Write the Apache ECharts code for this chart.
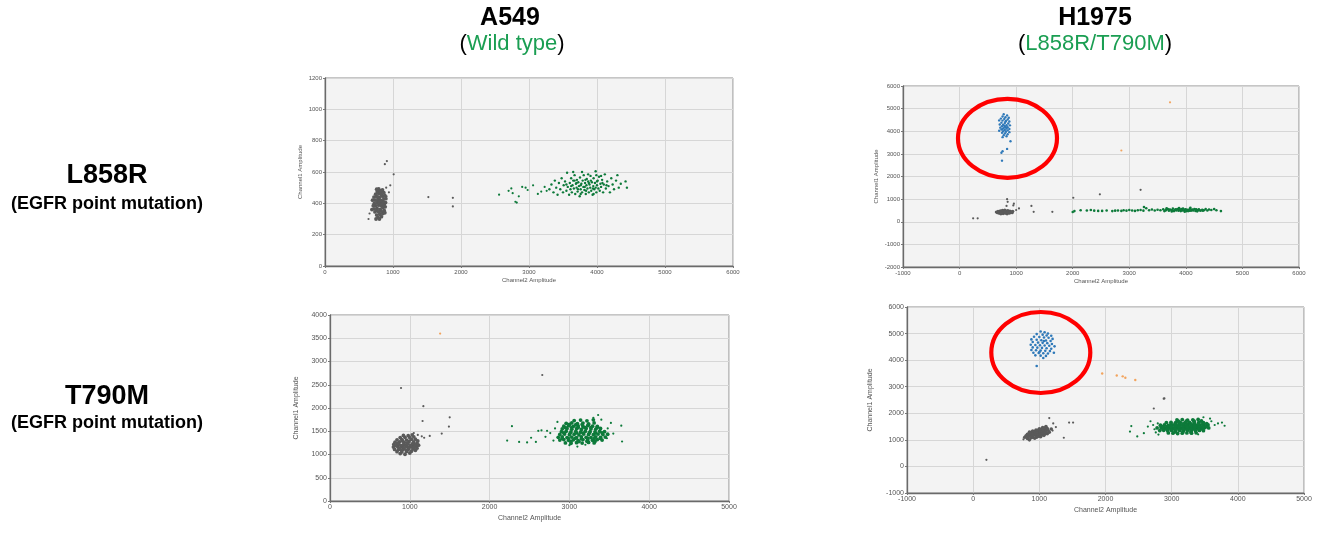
<!DOCTYPE html>
<html><head><meta charset="utf-8">
<script src="https://cdn.jsdelivr.net/npm/echarts@6/dist/echarts.min.js"></script>
<style>html,body{margin:0;padding:0;background:#fff}#c{width:1320px;height:537px}</style>
</head><body><div id="c"></div>
<script>
// ---------- Panel 1: A549 / L858R ----------
var p1Gray = [[800,300],[780,310],[830,315],[760,325],[805,330],[850,335],[735,345],[790,345],[825,350],[870,355],[720,365],[765,368],[810,362],[850,372],[885,378],[745,385],[790,388],[830,384],[870,392],[725,400],[770,405],[815,402],[855,410],[890,405],[740,420],[785,425],[825,418],[865,428],[720,440],[760,442],[800,438],[845,446],[880,450],[745,458],[790,462],[830,456],[865,468],[770,475],[810,480],[845,485],[790,492],[820,470],[800,410],[760,355],[840,395],[780,440],[710,385],[895,430],[700,420],[690,360],[750,300],[830,480],[760,490],[880,340]];
var p1GrayOut = [[880,650],[910,670],[1010,585],[960,515],[940,470],[905,445],[1520,440],[1880,435],[1880,380],[640,300],[655,335],[900,500]];
var p1Green = [[3300,490],[3330,520],[3360,470],[3380,545],[3400,500],[3420,455],[3440,530],[3460,490],[3480,560],[3500,470],[3510,515],[3530,540],[3550,480],[3560,595],[3570,505],[3590,455],[3600,530],[3610,490],[3620,560],[3630,470],[3640,515],[3650,545],[3660,495],[3670,580],[3680,460],[3690,525],[3700,500],[3705,550],[3715,475],[3725,535],[3735,510],[3745,445],[3750,565],[3760,490],[3770,525],[3780,470],[3790,545],[3800,505],[3805,580],[3815,485],[3825,530],[3835,460],[3845,515],[3850,555],[3860,495],[3870,540],[3880,470],[3890,520],[3900,500],[3905,575],[3915,480],[3925,535],[3935,455],[3945,510],[3950,560],[3960,490],[3970,530],[3980,605],[3990,470],[4000,515],[4010,545],[4020,495],[4030,570],[4040,480],[4050,525],[4060,505],[4075,550],[4090,470],[4100,520],[4115,585],[4130,495],[4150,540],[4170,510],[4190,470],[4210,560],[4230,520],[4250,490],[4280,545],[4300,580],[4320,500],[4350,525],[4420,540],[4440,500],[3650,600],[3870,585],[3950,460],[3780,600],[4060,575],[3720,490],[3820,505],[3880,530],[3940,495],[3760,515],[3840,480],[4000,540],[3700,530],[3910,545],[3980,500],[3620,510],[4080,530],[4140,515],[3550,520],[3830,550],[3760,460],[3990,580],[3670,545]];
var p1GreenOut = [[2560,455],[2700,480],[2740,495],[2760,465],[2800,410],[2820,405],[2850,445],[2900,505],[2950,500],[2980,485],[3060,515],[3130,460],[3180,475],[3230,505],[3260,480]];

// ---------- Panel 2: H1975 / L858R ----------
var p2Blue = [[780,4750],[840,4700],[760,4650],[810,4620],[870,4600],[730,4560],[790,4540],[850,4520],[700,4480],[760,4470],[820,4450],[880,4430],[740,4380],[800,4360],[860,4340],[710,4300],[770,4290],[830,4270],[890,4260],[750,4220],[800,4200],[850,4180],[720,4160],[780,4140],[830,4120],[880,4100],[740,4080],[800,4060],[850,4040],[700,4020],[770,4000],[820,3980],[880,3960],[750,3930],[800,3900],[850,3870],[780,3820],[830,3780],[760,3740],[900,3560],[840,3220],[760,3120],[740,3050],[750,2700],[810,4420],[790,4250],[760,4100],[820,4180]];
var p2Gray = [[650,430],[670,400],[680,460],[700,380],[710,420],[720,480],[730,350],[740,440],[750,400],[760,500],[770,360],[780,450],[790,410],[800,520],[810,380],[820,470],[830,430],[840,350],[850,490],[860,410],[870,450],[880,380],[890,470],[900,420],[910,440],[930,400],[940,460],[700,440],[760,430],[820,400],[860,470],[790,480],[740,470],[880,420],[690,410],[750,460],[800,440],[850,420],[920,430],[730,400]];
var p2GrayOut = [[840,1000],[850,880],[830,700],[950,720],[1050,590],[1270,700],[1310,440],[1640,440],[240,150],[320,150],[2010,1060],[2480,1210],[3200,1410],[1000,520],[960,800]];
var p2Orange = [[2860,3150],[3720,5280]];
var p2Green = [[2000,430],[2030,470],[2140,510],[2250,500],[2320,520],[2380,490],[2450,480],[2520,480],[2600,500],[2700,470],[2750,490],[2800,500],[2860,480],[2900,510],[2950,490],[3000,520],[3050,500],[3100,480],[3150,510],[3200,520],[3250,490],[3260,650],[3300,600],[3350,510],[3400,540],[3450,500],[3500,530],[3550,510],[3600,550],[3620,470],[3650,520],[3680,560],[3700,490],[3720,540],[3750,510],[3770,580],[3790,470],[3810,530],[3830,500],[3850,560],[3870,490],[3890,540],[3910,470],[3930,520],[3950,580],[3970,500],[3990,550],[4010,470],[4030,530],[4050,510],[4070,570],[4090,490],[4110,540],[4130,500],[4150,560],[4170,480],[4190,530],[4210,510],[4230,550],[4260,490],[4290,530],[4320,510],[4350,560],[4380,500],[4410,540],[4450,520],[4500,560],[4540,510],[4620,470],[3660,600],[3880,610],[4080,620],[3750,450],[3980,440],[4200,460],[3640,500],[3700,530],[3760,490],[3820,550],[3880,520],[3940,500],[4000,540],[4060,490],[4120,520],[4180,550],[4240,510],[4300,490],[3920,560],[4040,470]];

// ---------- Panel 3: A549 / T790M ----------
var p3Gray = [[880,1020],[940,1005],[1000,1030],[840,1060],[900,1055],[960,1065],[1020,1070],[1070,1090],[810,1110],[860,1105],[920,1115],[980,1110],[1040,1120],[1090,1135],[795,1160],[850,1165],[905,1160],[965,1170],[1020,1165],[1080,1180],[1110,1200],[800,1215],[860,1220],[920,1210],[975,1225],[1035,1220],[1090,1240],[815,1265],[870,1270],[930,1260],[990,1275],[1050,1270],[1100,1290],[840,1315],[900,1320],[960,1310],[1020,1325],[1070,1330],[880,1365],[940,1370],[1000,1360],[1050,1380],[920,1410],[980,1405],[1030,1420],[830,1190],[890,1190],[950,1195],[1010,1195],[1060,1210],[870,1130],[930,1140],[990,1145],[1050,1150],[900,1090],[960,1090],[910,1290],[970,1240],[1040,1240],[850,1240]];
var p3GrayOut = [[1050,1460],[1100,1420],[1150,1390],[1250,1400],[1180,1360],[890,2430],[1170,2040],[1160,1720],[1500,1800],[1490,1600],[1400,1450],[2660,2710]];
var p3Orange = [[1380,3600]];
var p3Green = [[2950,1250],[3020,1240],[3090,1255],[3160,1245],[3240,1260],[3310,1250],[2880,1310],[2930,1320],[2990,1305],[3050,1315],[3110,1300],[3170,1320],[3230,1310],[3290,1305],[3350,1320],[3410,1310],[2860,1370],[2910,1380],[2970,1365],[3030,1375],[3090,1360],[3150,1380],[3210,1370],[3270,1365],[3330,1380],[3390,1370],[3450,1375],[2880,1430],[2940,1440],[3000,1425],[3060,1435],[3120,1420],[3180,1440],[3240,1430],[3300,1425],[3360,1440],[3420,1430],[3480,1435],[2900,1490],[2960,1500],[3020,1485],[3080,1495],[3140,1480],[3200,1500],[3260,1490],[3320,1485],[3380,1500],[3440,1490],[2910,1550],[2970,1560],[3030,1545],[3090,1555],[3150,1540],[3210,1560],[3270,1550],[3330,1545],[3390,1560],[2930,1610],[2990,1620],[3050,1605],[3110,1615],[3170,1600],[3230,1620],[3290,1610],[3350,1605],[2960,1670],[3030,1680],[3100,1665],[3170,1675],[3240,1660],[3310,1680],[3060,1730],[3140,1740],[3220,1725],[3300,1745],[2910,1345],[2990,1340],[3070,1345],[3150,1340],[3230,1345],[3310,1340],[3390,1345],[2930,1465],[3010,1460],[3090,1465],[3170,1460],[3250,1465],[3330,1460],[3410,1465],[2950,1580],[3030,1585],[3110,1580],[3190,1585],[3270,1580],[3350,1585],[3000,1645],[3080,1640],[3160,1645],[3240,1640],[3020,1280],[3120,1280],[3220,1285],[3320,1280]];
var p3GreenOut = [[2220,1300],[2280,1610],[2370,1270],[2470,1260],[2520,1360],[2580,1270],[2610,1510],[2650,1520],[2700,1380],[2720,1510],[2760,1460],[2800,1300],[2820,1560],[3000,1200],[3100,1170],[3200,1210],[3360,1850],[3400,1750],[3480,1560],[3520,1680],[3550,1450],[3650,1620],[3660,1280],[3470,1350],[2850,1700],[3300,1790]];

// ---------- Panel 4: H1975 / T790M ----------
var p4Blue = [[1020,5080],[1080,5050],[1130,5000],[960,4980],[1050,4960],[1110,4930],[1180,4920],[920,4880],[1000,4870],[1070,4850],[1140,4840],[1200,4800],[880,4780],[960,4770],[1030,4750],[1100,4740],[1170,4720],[900,4680],[980,4660],[1050,4650],[1120,4640],[1190,4610],[870,4580],[940,4570],[1010,4560],[1080,4550],[1150,4540],[1230,4520],[900,4480],[970,4470],[1040,4460],[1110,4450],[1180,4430],[880,4380],[950,4370],[1020,4360],[1090,4350],[1160,4340],[910,4280],[990,4270],[1060,4260],[1130,4250],[940,4180],[1020,4170],[1100,4160],[1060,4080],[1000,4300],[1070,4720],[960,3780],[1220,4280]];
var p4Orange = [[1950,3500],[2170,3420],[2260,3390],[2300,3340],[2450,3250]];
var p4Gray = [[780,1100],[820,1050],[850,1000],[880,1080],[800,1150],[840,1130],[870,1160],[900,1120],[930,1060],[960,1100],[820,1210],[860,1230],[890,1200],[920,1180],[950,1160],[990,1140],[1020,1120],[850,1290],[880,1280],[910,1260],[940,1240],[980,1220],[1010,1200],[1040,1180],[1070,1170],[900,1330],[930,1310],[960,1300],[990,1290],[1020,1270],[1050,1250],[1090,1240],[1120,1230],[950,1370],[980,1360],[1010,1340],[1040,1330],[1070,1320],[1100,1300],[1150,1290],[1000,1420],[1030,1400],[1060,1390],[1100,1380],[1130,1360],[1050,1460],[1090,1450],[1120,1430],[1180,1410],[1100,1500]];
var p4GrayOut = [[1150,1820],[1210,1620],[1370,1080],[1450,1650],[1510,1650],[200,250],[2730,2180],[2880,2550],[2890,2560],[1200,1350],[1250,1480],[760,1020]];
var p4Green = [[2950,1260],[3020,1250],[3090,1240],[3160,1250],[3230,1260],[3300,1250],[3370,1265],[2820,1350],[2880,1360],[2940,1345],[3000,1355],[3060,1340],[3120,1355],[3180,1345],[3240,1360],[3300,1350],[3360,1340],[3420,1355],[3480,1345],[2780,1450],[2840,1460],[2900,1445],[2960,1455],[3020,1440],[3080,1455],[3140,1445],[3200,1460],[3260,1450],[3320,1440],[3380,1455],[3440,1445],[3500,1460],[3560,1450],[2830,1550],[2890,1560],[2950,1545],[3010,1555],[3070,1540],[3130,1555],[3190,1545],[3250,1560],[3310,1550],[3370,1540],[3430,1555],[3490,1545],[3550,1560],[2920,1650],[2990,1660],[3060,1645],[3130,1655],[3200,1640],[3270,1655],[3340,1645],[3410,1660],[3480,1650],[3080,1750],[3160,1760],[3240,1745],[3320,1755],[3400,1770],[2870,1400],[2990,1400],[3110,1400],[3230,1400],[3350,1400],[3470,1400],[2930,1500],[3050,1500],[3170,1500],[3290,1500],[3410,1500],[3530,1500],[2990,1600],[3110,1600],[3230,1600],[3350,1600],[3470,1600],[3050,1300],[3170,1300],[3290,1300],[3100,1700],[3220,1700],[3340,1700],[3450,1710],[2930,1400],[3050,1400],[3170,1400],[3290,1400],[3410,1400],[2870,1500],[2990,1500],[3110,1500],[3230,1500],[3350,1500],[3470,1500],[3050,1600],[3170,1600],[3290,1600],[3410,1600],[3530,1610]];
var p4GreenOut = [[2370,1310],[2390,1520],[2480,1130],[2580,1250],[2640,1500],[2680,1700],[2720,1560],[2740,1400],[2760,1280],[2790,1620],[3600,1700],[3650,1560],[3700,1620],[3760,1650],[3800,1530],[3580,1800],[3480,1850],[2800,1200],[3400,1210]];

// ---------- text ----------
var colHeads = ['A549', 'H1975'];
var colSubs = ['Wild type', 'L858R/T790M'];
var rowHeads = ['L858R', 'T790M'];
var rowSubs = ['(EGFR point mutation)', '(EGFR point mutation)'];
var xName = 'Channel2 Amplitude';
var yName = 'Channel1 Amplitude';

var GRAY = '#5a5a5a', GREEN = '#0d7a3a', BLUE = '#2f79b9', ORANGE = '#f2a45e';
var FONT = 'Liberation Sans, Arial, sans-serif';

var grids = [
  {left:325, top:78, width:408, height:188},
  {left:903, top:86, width:396, height:181},
  {left:330, top:315, width:399, height:186},
  {left:907, top:307, width:397, height:186}
];
var xRanges = [[0,6000,1000],[-1000,6000,1000],[0,5000,1000],[-1000,5000,1000]];
var yRanges = [[0,1200,200],[-2000,6000,1000],[0,4000,500],[-1000,6000,1000]];
var lblSize = [6, 6, 7, 7];
var yGap = [22, 24, 30, 33];
var xGap = [11, 11, 14, 14];

function axisCommon(i){
  return {
    axisLine:{show:true, onZero:false, lineStyle:{color:'#6a6a6a', width:1.3}},
    axisTick:{show:true, length:2, lineStyle:{color:'#777'}},
    axisLabel:{fontSize:lblSize[i], color:'#555', fontFamily:FONT, margin:3, formatter:function(v){return String(v);}},
    splitLine:{show:true, lineStyle:{color:'#d6d6d6', width:1}},
    nameLocation:'middle',
    nameTextStyle:{fontSize:lblSize[i], color:'#555', fontFamily:FONT}
  };
}
var xAxes = [], yAxes = [];
for (var i=0;i<4;i++){
  var xa = axisCommon(i);
  Object.assign(xa, {type:'value', gridIndex:i, min:xRanges[i][0], max:xRanges[i][1], interval:xRanges[i][2], name:xName, nameGap:xGap[i]});
  xAxes.push(xa);
  var ya = axisCommon(i);
  Object.assign(ya, {type:'value', gridIndex:i, min:yRanges[i][0], max:yRanges[i][1], interval:yRanges[i][2], name:yName, nameGap:yGap[i]});
  yAxes.push(ya);
}

function sc(idx, data, color, size){
  return {type:'scatter', xAxisIndex:idx, yAxisIndex:idx, data:data, symbolSize:size, silent:true,
          itemStyle:{color:color, opacity:1}, animation:false};
}
var series = [
  sc(0,p1Gray,GRAY,3.8), sc(0,p1GrayOut,GRAY,2.2), sc(0,p1Green,GREEN,2.4), sc(0,p1GreenOut,GREEN,2.2),
  sc(1,p2Gray,GRAY,3.2), sc(1,p2GrayOut,GRAY,2.2), sc(1,p2Green,GREEN,2.6), sc(1,p2Blue,BLUE,2.4), sc(1,p2Orange,ORANGE,2.2),
  sc(2,p3Gray,GRAY,3.8), sc(2,p3GrayOut,GRAY,2.2), sc(2,p3Green,GREEN,3.8), sc(2,p3GreenOut,GREEN,2.2), sc(2,p3Orange,ORANGE,2.2),
  sc(3,p4Gray,GRAY,3.6), sc(3,p4GrayOut,GRAY,2.2), sc(3,p4Green,GREEN,3.8), sc(3,p4GreenOut,GREEN,2.2), sc(3,p4Blue,BLUE,2.6), sc(3,p4Orange,ORANGE,2.4)
];

var gridOpts = grids.map(function(g){
  return Object.assign({show:true, backgroundColor:'#f3f3f3', borderColor:'#8c8c8c', borderWidth:1, containLabel:false}, g);
});

var graphics = [
  {type:'text', x:510, y:18, style:{text:colHeads[0], font:'bold 25px '+FONT, fill:'#000', align:'center', verticalAlign:'middle'}},
  {type:'text', x:1095, y:18, style:{text:colHeads[1], font:'bold 25px '+FONT, fill:'#000', align:'center', verticalAlign:'middle'}},
  {type:'text', x:512, y:44, style:{text:'{p|(}{g|'+colSubs[0]+'}{p|)}', align:'center', verticalAlign:'middle', font:'22px '+FONT,
     rich:{p:{fill:'#000', font:'22px '+FONT}, g:{fill:'#1a9e52', font:'22px '+FONT}}}},
  {type:'text', x:1095, y:44, style:{text:'{p|(}{g|'+colSubs[1]+'}{p|)}', align:'center', verticalAlign:'middle', font:'22px '+FONT,
     rich:{p:{fill:'#000', font:'22px '+FONT}, g:{fill:'#1a9e52', font:'22px '+FONT}}}},
  {type:'text', x:107, y:176, style:{text:rowHeads[0], font:'bold 27px '+FONT, fill:'#000', align:'center', verticalAlign:'middle'}},
  {type:'text', x:107, y:204, style:{text:rowSubs[0], font:'bold 18px '+FONT, fill:'#000', align:'center', verticalAlign:'middle'}},
  {type:'text', x:107, y:397, style:{text:rowHeads[1], font:'bold 27px '+FONT, fill:'#000', align:'center', verticalAlign:'middle'}},
  {type:'text', x:107, y:423, style:{text:rowSubs[1], font:'bold 18px '+FONT, fill:'#000', align:'center', verticalAlign:'middle'}},
  {type:'ellipse', shape:{cx:1007.5, cy:138.3, rx:49.5, ry:39.5}, style:{fill:null, stroke:'#ff0000', lineWidth:4.2}, z:100},
  {type:'ellipse', shape:{cx:1040.8, cy:352.5, rx:49.5, ry:40.5}, style:{fill:null, stroke:'#ff0000', lineWidth:4.2}, z:100}
];

var chart = echarts.init(document.getElementById('c'), null, {renderer:'canvas'});
chart.setOption({
  animation:false,
  backgroundColor:'#ffffff',
  grid:gridOpts, xAxis:xAxes, yAxis:yAxes, series:series, graphic:graphics
});
</script></body></html>
